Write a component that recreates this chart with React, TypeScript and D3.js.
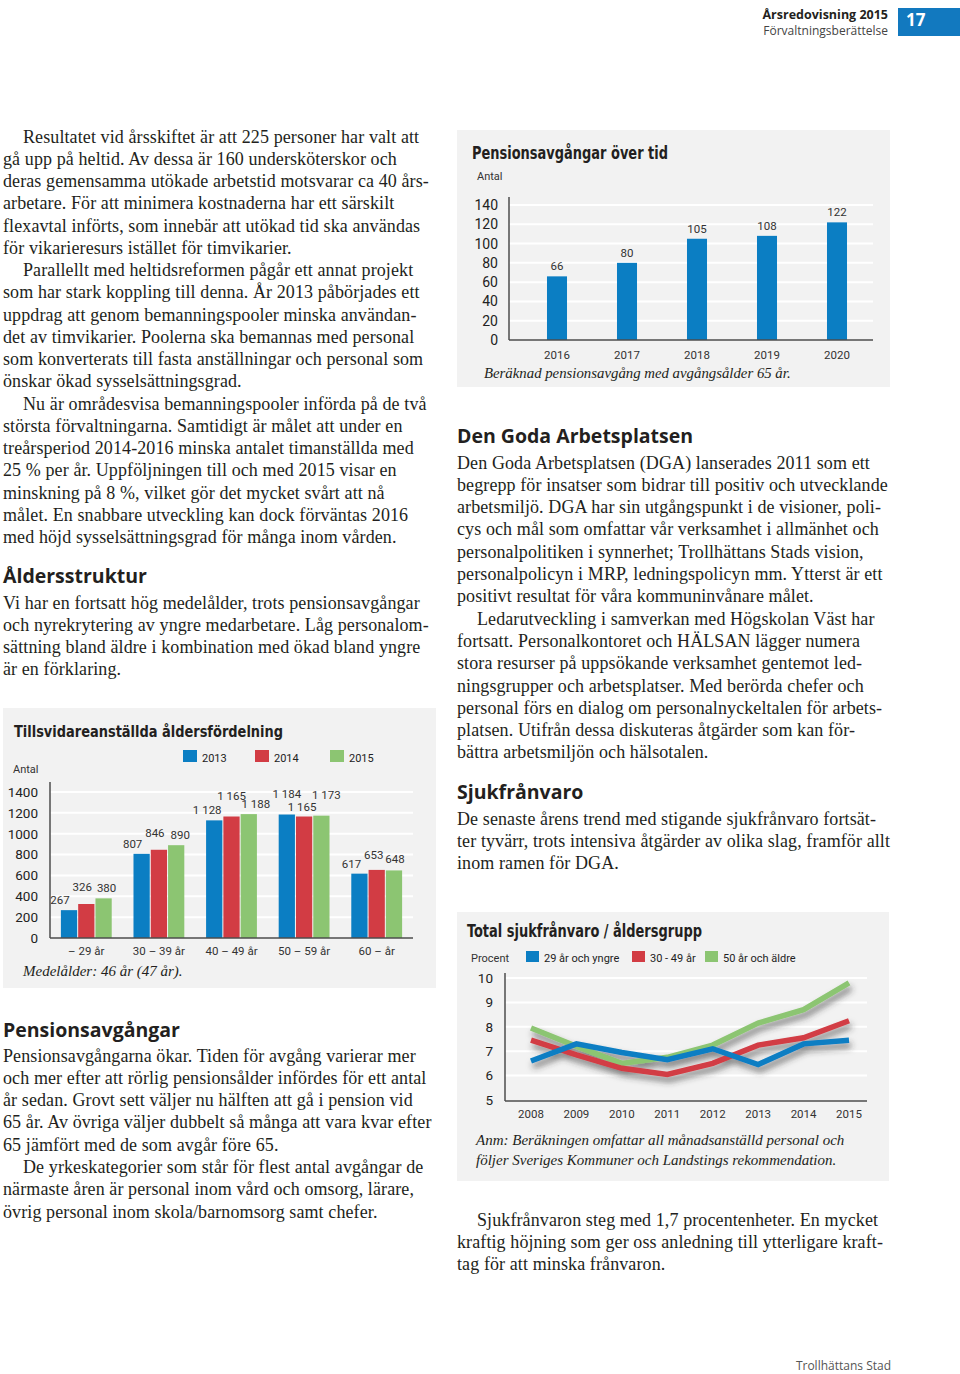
import React from 'react';
import * as d3 from 'd3';

// ---------- DATA ----------
const pensionYears = ['2016', '2017', '2018', '2019', '2020'];
const pensionValues = [66, 80, 105, 108, 122];
const pensionTicks = [0, 20, 40, 60, 80, 100, 120, 140];

const ageGroups = ['– 29 år', '30 – 39 år', '40 – 49 år', '50 – 59 år', '60 – år'];
const ageSeries = ['2013', '2014', '2015'];
const age2013 = [267, 807, 1128, 1184, 617];
const age2014 = [326, 846, 1165, 1165, 653];
const age2015 = [380, 890, 1188, 1173, 648];
const ageTicks = [0, 200, 400, 600, 800, 1000, 1200, 1400];

const sickYears = ['2008', '2009', '2010', '2011', '2012', '2013', '2014', '2015'];
const sickSeries = ['29 år och yngre', '30 - 49 år', '50 år och äldre'];
const sickYoung = [6.6, 7.3, 6.95, 6.65, 7.1, 6.45, 7.3, 7.45];
const sickMid = [7.45, 6.85, 6.3, 6.05, 6.5, 7.25, 7.55, 8.25];
const sickOld = [7.95, 7.2, 6.5, 6.75, 7.25, 8.15, 8.7, 9.8];
const sickTicks = [5, 6, 7, 8, 9, 10];

// ---------- TEXT ----------
const textA = [
  '\tResultatet vid årsskiftet är att 225 personer har valt att',
  'gå upp på heltid. Av dessa är 160 undersköterskor och',
  'deras gemensamma utökade arbetstid motsvarar ca 40 års-',
  'arbetare. För att minimera kostnaderna har ett särskilt',
  'flexavtal införts, som innebär att utökad tid ska användas',
  'för vikarieresurs istället för timvikarier.',
  '\tParallellt med heltidsreformen pågår ett annat projekt',
  'som har stark koppling till denna. År 2013 påbörjades ett',
  'uppdrag att genom bemanningspooler minska användan-',
  'det av timvikarier. Poolerna ska bemannas med personal',
  'som konverterats till fasta anställningar och personal som',
  'önskar ökad sysselsättningsgrad.',
  '\tNu är områdesvisa bemanningspooler införda på de två',
  'största förvaltningarna. Samtidigt är målet att under en',
  'treårsperiod 2014-2016 minska antalet timanställda med',
  '25 % per år. Uppföljningen till och med 2015 visar en',
  'minskning på 8 %, vilket gör det mycket svårt att nå',
  'målet. En snabbare utveckling kan dock förväntas 2016',
  'med höjd sysselsättningsgrad för många inom vården.',
];
const textB = [
  'Vi har en fortsatt hög medelålder, trots pensionsavgångar',
  'och nyrekrytering av yngre medarbetare. Låg personalom-',
  'sättning bland äldre i kombination med ökad bland yngre',
  'är en förklaring.',
];
const textC = [
  'Pensionsavgångarna ökar. Tiden för avgång varierar mer',
  'och mer efter att rörlig pensionsålder infördes för ett antal',
  'år sedan. Grovt sett väljer nu hälften att gå i pension vid',
  '65 år. Av övriga väljer dubbelt så många att vara kvar efter',
  '65 jämfört med de som avgår före 65.',
  '\tDe yrkeskategorier som står för flest antal avgångar de',
  'närmaste åren är personal inom vård och omsorg, lärare,',
  'övrig personal inom skola/barnomsorg samt chefer.',
];
const textD = [
  'Den Goda Arbetsplatsen (DGA) lanserades 2011 som ett',
  'begrepp för insatser som bidrar till positiv och utvecklande',
  'arbetsmiljö. DGA har sin utgångspunkt i de visioner, poli-',
  'cys och mål som omfattar vår verksamhet i allmänhet och',
  'personalpolitiken i synnerhet; Trollhättans Stads vision,',
  'personalpolicyn i MRP, ledningspolicyn mm. Ytterst är ett',
  'positivt resultat för våra kommuninvånare målet.',
  '\tLedarutveckling i samverkan med Högskolan Väst har',
  'fortsatt. Personalkontoret och HÄLSAN lägger numera',
  'stora resurser på uppsökande verksamhet gentemot led-',
  'ningsgrupper och arbetsplatser. Med berörda chefer och',
  'personal förs en dialog om personalnyckeltalen för arbets-',
  'platsen. Utifrån dessa diskuteras åtgärder som kan för-',
  'bättra arbetsmiljön och hälsotalen.',
];
const textE = [
  'De senaste årens trend med stigande sjukfrånvaro fortsät-',
  'ter tyvärr, trots intensiva åtgärder av olika slag, framför allt',
  'inom ramen för DGA.',
];
const textF = [
  '\tSjukfrånvaron steg med 1,7 procentenheter. En mycket',
  'kraftig höjning som ger oss anledning till ytterligare kraft-',
  'tag för att minska frånvaron.',
];

// ---------- STYLE ----------
const SERIF = "'Liberation Serif','Times New Roman',serif";
const HEAD = "'Open Sans','Noto Sans',sans-serif";
const COND = "'Liberation Sans Narrow','DejaVu Sans Condensed','Roboto',sans-serif";
const SMALL = "Roboto,'Open Sans',sans-serif";
const INK = '#231f20';
const BLUE = '#0b7ec3';
const RED = '#d23c44';
const GREEN = '#8cc572';
const PANEL = '#f2f2f2';
const AXIS = '#4d4d4d';

const fmt = d3
  .formatLocale({ decimal: ',', thousands: '\u00a0', grouping: [3], currency: ['', ''] })
  .format(',d');

function Para({ lines, x, y, step = 22.3 }: { lines: string[]; x: number; y: number; step?: number }) {
  return (
    <g fontFamily={SERIF} fontSize={18} letterSpacing={0.1} fill={INK}>
      {lines.map((l, i) => {
        const ind = l.startsWith('\t');
        return (
          <text key={i} x={x + (ind ? 20 : 0)} y={y + i * step}>
            {ind ? l.slice(1) : l}
          </text>
        );
      })}
    </g>
  );
}

function Heading({ x, y, children }: { x: number; y: number; children: React.ReactNode }) {
  return (
    <text x={x} y={y} fontFamily={HEAD} fontWeight={700} fontSize={19.5} fill={INK}>
      {children}
    </text>
  );
}

function PensionChart() {
  const x = d3.scaleBand().domain(pensionYears).range([522, 872]).paddingInner(0.714).paddingOuter(0.357);
  const y = d3.scaleLinear().domain([0, 140]).range([340, 205]);
  const left = 509, right = 873;
  return (
    <g>
      <rect x={457} y={130} width={433} height={257} fill={PANEL} />
      <text x={472} y={159} fontFamily={COND} fontWeight={700} fontSize={17} fill={INK} textLength={196} lengthAdjust="spacingAndGlyphs">
        Pensionsavgångar över tid
      </text>
      <text x={477} y={180} fontFamily={SMALL} fontSize={11} fill="#333">Antal</text>
      {pensionTicks.map((t) => (
        <g key={t}>
          {t > 0 && <line x1={left} x2={right} y1={y(t)} y2={y(t)} stroke="#fff" strokeWidth={2} />}
          <text x={498} y={y(t)} dy="0.36em" textAnchor="end" fontFamily={SMALL} fontSize={14} fill="#222">
            {t}
          </text>
        </g>
      ))}
      {pensionYears.map((yr, i) => (
        <g key={yr}>
          <rect x={x(yr)} y={y(pensionValues[i])} width={x.bandwidth()} height={y(0) - y(pensionValues[i])} fill={BLUE} />
          <text x={x(yr)! + x.bandwidth() / 2} y={y(pensionValues[i]) - 6} textAnchor="middle" fontFamily={SMALL} fontSize={11.5} fill="#333">
            {pensionValues[i]}
          </text>
          <text x={x(yr)! + x.bandwidth() / 2} y={359} textAnchor="middle" fontFamily={SMALL} fontSize={11.5} fill="#333">
            {yr}
          </text>
        </g>
      ))}
      <line x1={left} x2={left} y1={197} y2={y(0)} stroke={AXIS} strokeWidth={1.5} />
      <line x1={left} x2={right} y1={y(0)} y2={y(0)} stroke={AXIS} strokeWidth={1.5} />
      <text x={484} y={378} fontFamily={SERIF} fontStyle="italic" fontSize={14.8} fill={INK}>
        Beräknad pensionsavgång med avgångsålder 65 år.
      </text>
    </g>
  );
}

// label layout for the value labels (staggered to avoid overlap)
const ageLabelDx = [[-9, -4, 3], [-9, -4, 4], [-7, 0, 7], [0, -2, 5], [-8, -3, 1]];
const ageLabelLift = [[0, 7, 0], [0, 7, 0], [0, 11, 0], [11, 0, 11], [0, 5, 1]];

function AgeChart() {
  const x = d3.scaleBand().domain(ageGroups).range([50, 413]).paddingInner(0.3).paddingOuter(0.15);
  const xs = d3.scaleBand().domain(ageSeries).range([0, x.bandwidth()]).paddingInner(0.06);
  const y = d3.scaleLinear().domain([0, 1400]).range([938, 792]);
  const colors = [BLUE, RED, GREEN];
  const series = [age2013, age2014, age2015];
  const legendX = [183, 255, 330];
  return (
    <g>
      <rect x={3} y={708} width={433} height={280} fill={PANEL} />
      <text x={14} y={737} fontFamily={COND} fontWeight={700} fontSize={16.5} fill={INK} textLength={269} lengthAdjust="spacingAndGlyphs">
        Tillsvidareanställda åldersfördelning
      </text>
      {ageSeries.map((s, i) => (
        <g key={s}>
          <rect x={legendX[i]} y={750} width={14} height={12} fill={colors[i]} />
          <text x={legendX[i] + 19} y={762} fontFamily={SMALL} fontSize={11} fill="#222">{s}</text>
        </g>
      ))}
      <text x={13} y={773} fontFamily={SMALL} fontSize={11} fill="#333">Antal</text>
      {ageTicks.map((t) => (
        <g key={t}>
          {t > 0 && <line x1={50} x2={413} y1={y(t)} y2={y(t)} stroke="#fff" strokeWidth={2} />}
          <text x={38} y={y(t)} dy="0.36em" textAnchor="end" fontFamily={SMALL} fontSize={13.5} fill="#222">
            {t}
          </text>
        </g>
      ))}
      {ageGroups.map((g, gi) => (
        <g key={g} transform={`translate(${x(g)},0)`}>
          {series.map((vals, si) => {
            const v = vals[gi];
            const bx = xs(ageSeries[si])!;
            return (
              <g key={si}>
                <rect x={bx} y={y(v)} width={xs.bandwidth()} height={y(0) - y(v)} fill={colors[si]} />
                <text
                  x={bx + xs.bandwidth() / 2 + ageLabelDx[gi][si]}
                  y={y(v) - 6 - ageLabelLift[gi][si]}
                  textAnchor="middle"
                  fontFamily={SMALL}
                  fontSize={11.5}
                  fill="#333"
                >
                  {fmt(v)}
                </text>
              </g>
            );
          })}
          <text x={x.bandwidth() / 2} y={955} textAnchor="middle" fontFamily={SMALL} fontSize={11.5} fill="#333">
            {g}
          </text>
        </g>
      ))}
      <line x1={50} x2={50} y1={782} y2={y(0)} stroke={AXIS} strokeWidth={1.5} />
      <line x1={50} x2={413} y1={y(0)} y2={y(0)} stroke={AXIS} strokeWidth={1.5} />
      <text x={23} y={976} fontFamily={SERIF} fontStyle="italic" fontSize={15} fill={INK}>
        Medelålder: 46 år (47 år).
      </text>
    </g>
  );
}

function SickChart() {
  const x = d3.scalePoint().domain(sickYears).range([531, 849]);
  const y = d3.scaleLinear().domain([5, 10]).range([1100, 978]);
  const line = d3
    .line<number>()
    .x((_, i) => x(sickYears[i])!)
    .y((d) => y(d));
  const colors = [BLUE, RED, GREEN];
  const series = [sickYoung, sickMid, sickOld];
  const legendX = [526, 632, 705];
  const drawOrder = [2, 1, 0];
  return (
    <g>
      <defs>
        <filter id="lshadow" x="-10%" y="-30%" width="120%" height="160%">
          <feDropShadow dx={2} dy={5} stdDeviation={3.2} floodColor="#333" floodOpacity={0.6} />
        </filter>
      </defs>
      <rect x={457} y={912} width={432} height={269} fill={PANEL} />
      <text x={467} y={937} fontFamily={COND} fontWeight={700} fontSize={17} fill={INK} textLength={235} lengthAdjust="spacingAndGlyphs">
        Total sjukfrånvaro / åldersgrupp
      </text>
      <text x={471} y={962} fontFamily={SMALL} fontSize={11} fill="#333">Procent</text>
      {sickSeries.map((s, i) => (
        <g key={s}>
          <rect x={legendX[i]} y={951} width={13} height={11} fill={colors[i]} />
          <text x={legendX[i] + 18} y={962} fontFamily={SMALL} fontSize={11} fill="#222">{s}</text>
        </g>
      ))}
      {sickTicks.map((t) => (
        <g key={t}>
          {t > 5 && <line x1={505} x2={867} y1={y(t)} y2={y(t)} stroke="#fff" strokeWidth={2} />}
          <text x={493} y={y(t)} dy="0.36em" textAnchor="end" fontFamily={SMALL} fontSize={13.5} fill="#222">
            {t}
          </text>
        </g>
      ))}
      <g filter="url(#lshadow)">
        {drawOrder.map((si) => (
          <path key={si} d={line(series[si])!} fill="none" stroke={colors[si]} strokeWidth={5.5} strokeLinejoin="miter" />
        ))}
      </g>
      {sickYears.map((yr) => (
        <text key={yr} x={x(yr)} y={1118} textAnchor="middle" fontFamily={SMALL} fontSize={11.5} fill="#333">
          {yr}
        </text>
      ))}
      <line x1={505} x2={505} y1={973} y2={1101} stroke={AXIS} strokeWidth={1.5} />
      <line x1={505} x2={867} y1={1101} y2={1101} stroke={AXIS} strokeWidth={1.5} />
      <g fontFamily={SERIF} fontStyle="italic" fontSize={15} fill={INK}>
        <text x={476} y={1145}>Anm: Beräkningen omfattar all månadsanställd personal och</text>
        <text x={476} y={1165}>följer Sveriges Kommuner och Landstings rekommendation.</text>
      </g>
    </g>
  );
}

export default function App() {
  return (
    <svg
      width={960}
      height={1374}
      viewBox="0 0 960 1374"
      style={{ position: 'absolute', left: 0, top: 0, background: '#fff' }}
    >
      <rect width={960} height={1374} fill="#fff" />
      {/* header */}
      <text x={888} y={18.5} textAnchor="end" fontFamily={HEAD} fontWeight={700} fontSize={12.5} fill={INK}>
        Årsredovisning 2015
      </text>
      <text x={888} y={35} textAnchor="end" fontFamily={HEAD} fontSize={12} fill="#444">
        Förvaltningsberättelse
      </text>
      <rect x={898} y={8} width={62} height={28} fill="#1279bf" />
      <text x={906} y={26} fontFamily={HEAD} fontWeight={700} fontSize={17} fill="#fff">17</text>

      {/* left column */}
      <Para lines={textA} x={3} y={142.5} step={22.25} />
      <Heading x={3} y={583}>Åldersstruktur</Heading>
      <Para lines={textB} x={3} y={608.5} step={22.25} />
      <AgeChart />
      <Heading x={3} y={1037}>Pensionsavgångar</Heading>
      <Para lines={textC} x={3} y={1061.5} />

      {/* right column */}
      <PensionChart />
      <Heading x={457} y={443}>Den Goda Arbetsplatsen</Heading>
      <Para lines={textD} x={457} y={468.5} />
      <Heading x={457} y={799}>Sjukfrånvaro</Heading>
      <Para lines={textE} x={457} y={824.5} />
      <SickChart />
      <Para lines={textF} x={457} y={1225.5} />

      {/* footer */}
      <text x={891} y={1370} textAnchor="end" fontFamily={HEAD} fontSize={12} fill="#555">
        Trollhättans Stad
      </text>
    </svg>
  );
}
